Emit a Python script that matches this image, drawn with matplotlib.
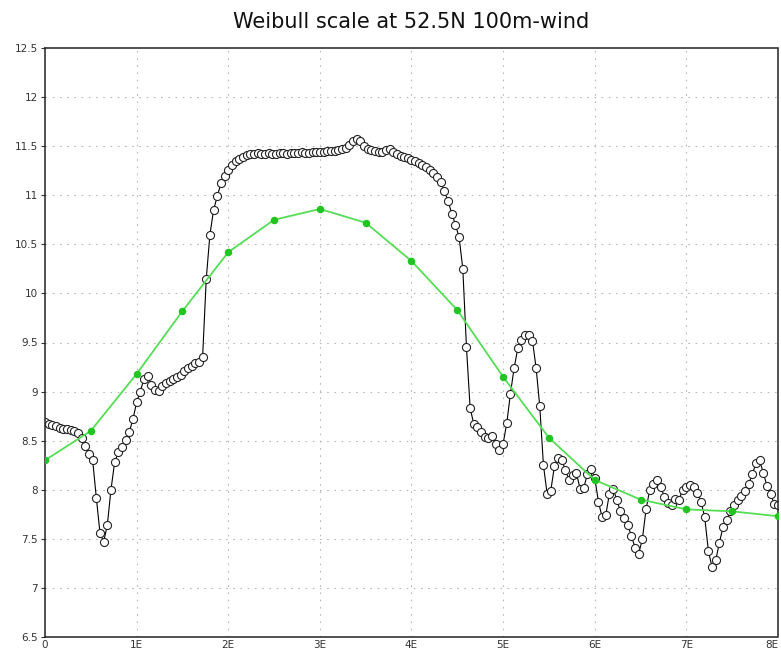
import numpy as np
import matplotlib
matplotlib.use("Agg")
import matplotlib.pyplot as plt

# Weibull scale along 52.5N, longitude 0..8E
lon_fine = np.round(np.arange(0, 8.0001, 0.04), 2)
scale_fine = [
    # 0 - 1E
    8.69, 8.67, 8.66, 8.65, 8.63, 8.62, 8.62, 8.61, 8.60, 8.58,
    8.53, 8.45, 8.36, 8.30, 7.92, 7.56, 7.47, 7.64, 8.00, 8.28,
    8.38, 8.44, 8.51, 8.59, 8.72, 8.89,
    # 1E - 2E
    9.00, 9.13, 9.16, 9.07, 9.02, 9.01, 9.06, 9.09, 9.11, 9.13,
    9.15, 9.17, 9.21, 9.24, 9.26, 9.29, 9.30, 9.35, 10.15, 10.60,
    10.85, 10.99, 11.12, 11.20, 11.26,
    # 2E - 3E
    11.31, 11.35, 11.37, 11.39, 11.41, 11.42, 11.42, 11.43, 11.42, 11.42,
    11.43, 11.42, 11.42, 11.43, 11.43, 11.42, 11.43, 11.43, 11.43, 11.44,
    11.43, 11.43, 11.44, 11.44, 11.44,
    # 3E - 4E
    11.44, 11.45, 11.45, 11.45, 11.46, 11.47, 11.48, 11.51, 11.55, 11.57,
    11.55, 11.50, 11.47, 11.46, 11.45, 11.44, 11.44, 11.46, 11.47, 11.44,
    11.42, 11.40, 11.39, 11.38, 11.36,
    # 4E - 5E
    11.35, 11.33, 11.31, 11.29, 11.26, 11.23, 11.19, 11.13, 11.04, 10.94,
    10.81, 10.70, 10.57, 10.25, 9.45, 8.83, 8.67, 8.64, 8.59, 8.54,
    8.53, 8.55, 8.47, 8.40, 8.47,
    # 5E - 6E
    8.68, 8.98, 9.24, 9.44, 9.53, 9.58, 9.58, 9.52, 9.24, 8.85,
    8.25, 7.96, 7.99, 8.24, 8.32, 8.30, 8.20, 8.10, 8.15, 8.17,
    8.01, 8.02, 8.16, 8.21, 8.12,
    # 6E - 7E
    7.88, 7.72, 7.74, 7.96, 8.01, 7.90, 7.78, 7.71, 7.64, 7.53,
    7.41, 7.35, 7.50, 7.80, 8.00, 8.06, 8.10, 8.03, 7.93, 7.86,
    7.84, 7.91, 7.90, 8.00, 8.03,
    # 7E - 8E
    8.05, 8.03, 7.97, 7.88, 7.72, 7.38, 7.21, 7.28, 7.46, 7.62,
    7.69, 7.78, 7.84, 7.90, 7.94, 7.99, 8.06, 8.16, 8.27, 8.30,
    8.17, 8.04, 7.96, 7.85, 7.84,
]

lon_coarse = [0, 0.5, 1, 1.5, 2, 2.5, 3, 3.5, 4, 4.5, 5, 5.5, 6, 6.5, 7, 7.5, 8]
scale_coarse = [8.30, 8.60, 9.18, 9.82, 10.42, 10.75, 10.86, 10.72, 10.33,
                9.83, 9.15, 8.53, 8.10, 7.90, 7.80, 7.78, 7.73]

xtick_vals = [0, 1, 2, 3, 4, 5, 6, 7, 8]
xtick_labels = ["0", "1E", "2E", "3E", "4E", "5E", "6E", "7E", "8E"]
ytick_vals = [6.5, 7, 7.5, 8, 8.5, 9, 9.5, 10, 10.5, 11, 11.5, 12, 12.5]
ytick_labels = ["6.5", "7", "7.5", "8", "8.5", "9", "9.5", "10", "10.5",
                "11", "11.5", "12", "12.5"]


def main():
    fig = plt.figure(figsize=(7.81, 6.55), dpi=100)
    ax = fig.add_axes([45 / 781, 18 / 655, 733 / 781, 589 / 655])

    # grid
    for x in xtick_vals[1:-1]:
        ax.axvline(x, color="#b8b8b8", lw=0.8, ls=(0, (1.5, 5)), zorder=0)
    for y in ytick_vals[1:-1]:
        ax.axhline(y, color="#b8b8b8", lw=0.8, ls=(0, (1.5, 5)), zorder=0)

    ax.plot(lon_fine, scale_fine, color="black", lw=0.8, marker="o",
            markersize=5.8, markerfacecolor="white", markeredgecolor="#222222",
            markeredgewidth=0.8, zorder=2)
    ax.plot(lon_coarse, scale_coarse, color="#55dd55", lw=1.3, marker="o",
            markersize=4.4, markerfacecolor="#22c422", markeredgecolor="#22c422",
            zorder=3)

    ax.set_xlim(0, 8)
    ax.set_ylim(6.5, 12.5)
    ax.set_xticks(xtick_vals)
    ax.set_xticklabels(xtick_labels)
    ax.set_yticks(ytick_vals)
    ax.set_yticklabels(ytick_labels)
    ax.tick_params(axis="y", direction="out", length=3, width=0.8,
                   labelsize=7.5, colors="#333333", pad=2)
    ax.tick_params(axis="x", direction="out", length=0, labelsize=7.5,
                   colors="#333333", pad=2)
    ax.get_xticklabels()[-1].set_horizontalalignment("right")

    for s in ax.spines.values():
        s.set_linestyle((0, (3, 1)))
        s.set_linewidth(1.1)
        s.set_color("#222222")

    fig.text(411 / 781, 1 - 22 / 655, "Weibull scale at 52.5N 100m-wind",
             ha="center", va="center", fontsize=15, color="#111111")

    fig.savefig("out.png", dpi=100)
    plt.close(fig)


if __name__ == "__main__":
    main()
